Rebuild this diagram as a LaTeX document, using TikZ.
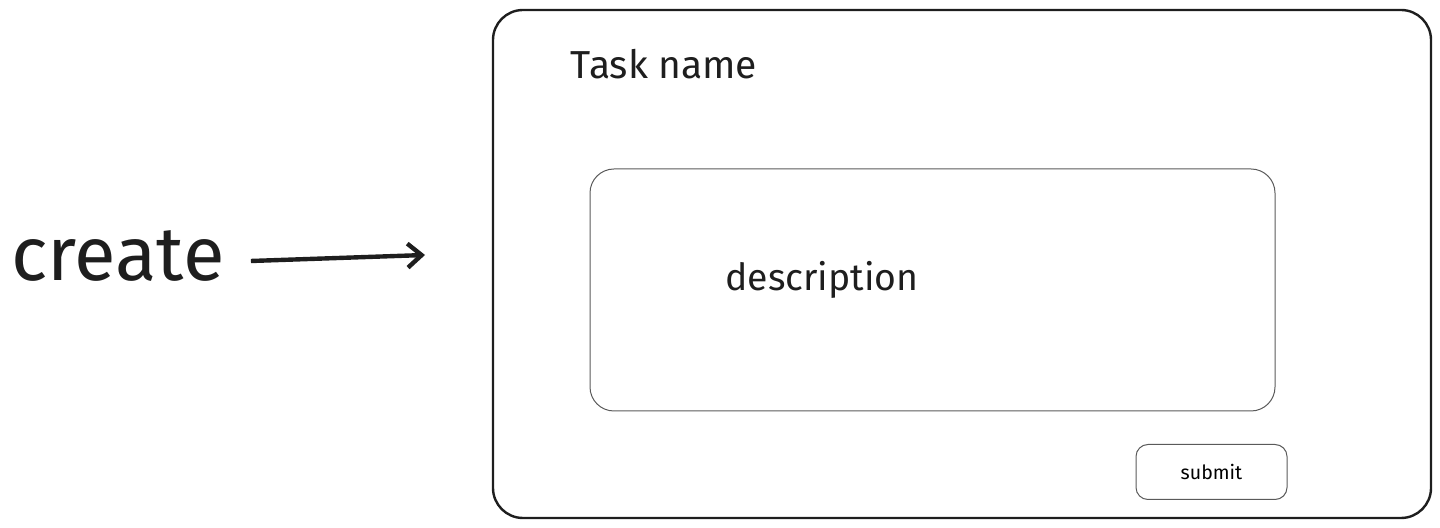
\documentclass[tikz,border=0pt]{standalone}
\usepackage{fontspec}
\setmainfont{Fira Sans}
\usepackage{tikz}
\usetikzlibrary{arrows.meta,positioning}
\definecolor{ink}{RGB}{30,30,30}
\definecolor{thin}{RGB}{90,90,90}
\tikzset{
  frame/.style={draw=ink,line width=1.2pt,rounded corners=15pt,
    minimum width=469pt,minimum height=254pt,inner sep=0pt},
  field/.style={draw=thin,line width=0.5pt,rounded corners=12pt,
    minimum width=342.5pt,minimum height=121pt,inner sep=0pt},
  btn/.style={draw=thin,line width=0.5pt,rounded corners=6pt,
    minimum width=75.5pt,minimum height=27.5pt,inner sep=0pt,font=\fontsize{9.8}{11}\selectfont},
  lbl/.style={text=ink,inner sep=0pt},
  flow/.style={-{Straight Barb[length=7pt,width=12pt]},line width=2.2pt,ink},
}
\begin{document}
\begin{tikzpicture}[x=0.5pt,y=-0.5pt]
\useasboundingbox (0,0) rectangle (1440,528);
% form window
\node[frame] (win) at (962,264) {};
\node[lbl,font=\fontsize{19.5}{22}\selectfont] (task) at (664,64) {Task name};
\node[field] (desc) at (932.5,290) {};
\node[lbl,font=\fontsize{18.7}{22}\selectfont] (desctxt) at (822,280) {description};
\node[btn] (submit) at (1211.5,472) {submit};

% trigger
\node[lbl,font=\fontsize{38}{44}\selectfont] (create) at (118,256) {create};
\coordinate (tip) at (425,255);
\draw[flow] (create.east) ++(26,5) coordinate (tail) -- (tip);
\end{tikzpicture}
\end{document}
